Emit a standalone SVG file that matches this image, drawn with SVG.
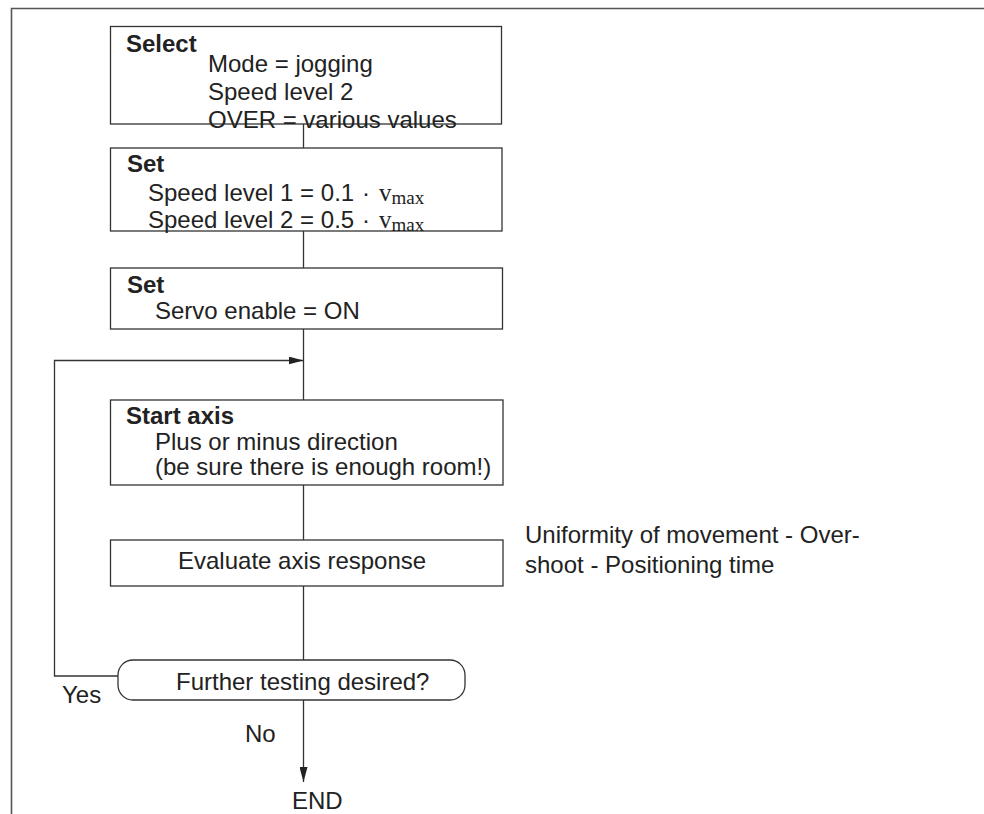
<svg xmlns="http://www.w3.org/2000/svg" width="984" height="814" viewBox="0 0 984 814">
<style>
  .frame{fill:none;stroke:#555;stroke-width:1.6}
  .box{fill:#fff;stroke:#333;stroke-width:1.3}
  .line{fill:none;stroke:#333;stroke-width:1.3}
  text{font-family:"Liberation Sans",Arial,sans-serif;font-size:24px;fill:#222}
  .b{font-weight:bold}
  .serif{font-family:"Liberation Serif","Times New Roman",serif}
</style>
<defs>
  <marker id="arr" viewBox="0 0 15 8" refX="15" refY="4" markerWidth="15" markerHeight="8" markerUnits="userSpaceOnUse" orient="auto">
    <path d="M0,0 L15,4 L0,8 Z" fill="#222"/>
  </marker>
</defs>
<rect width="984" height="814" fill="#fff"/>
<path class="frame" d="M11.5,814 V8.5 H984"/>

<g id="connectors">
  <path class="line" d="M303.5,124 V148"/>
  <path class="line" d="M303.5,231 V268"/>
  <path class="line" d="M303.5,329 V400"/>
  <path class="line" d="M303.5,485 V540"/>
  <path class="line" d="M303.5,586 V660"/>
  <path class="line" d="M118,676 H54.5 V360.5 H303.5" marker-end="url(#arr)"/>
  <path class="line" d="M303.5,700 V782" marker-end="url(#arr)"/>
  <text x="62" y="703">Yes</text>
  <text x="245" y="742">No</text>
</g>

<g id="select">
  <rect class="box" x="110.5" y="26.5" width="391" height="97.5"/>
  <text class="b" x="126" y="52">Select</text>
  <text x="208" y="72">Mode = jogging</text>
  <text x="208" y="100">Speed level 2</text>
  <text x="208" y="128">OVER = various values</text>
</g>

<g id="set-speed">
  <rect class="box" x="110.5" y="148" width="391.5" height="83"/>
  <text class="b" x="127" y="172">Set</text>
  <text x="148" y="201">Speed level 1 = 0.1<tspan x="362">·</tspan><tspan class="serif" x="379" font-size="25">v</tspan><tspan class="serif" font-size="19" dy="3">max</tspan></text>
  <text x="148" y="228">Speed level 2 = 0.5<tspan x="362">·</tspan><tspan class="serif" x="379" font-size="25">v</tspan><tspan class="serif" font-size="19" dy="3">max</tspan></text>
</g>

<g id="set-servo">
  <rect class="box" x="110.5" y="268" width="392" height="61"/>
  <text class="b" x="127" y="293">Set</text>
  <text x="155" y="319">Servo enable = ON</text>
</g>

<g id="start-axis">
  <rect class="box" x="110.5" y="400" width="392.5" height="85"/>
  <text class="b" x="126" y="424">Start axis</text>
  <text x="155" y="450">Plus or minus direction</text>
  <text x="155" y="475">(be sure there is enough room!)</text>
</g>

<g id="evaluate">
  <rect class="box" x="110.5" y="540" width="392.5" height="46"/>
  <text x="178" y="569">Evaluate axis response</text>
</g>

<g id="note">
  <text x="525" y="543">Uniformity of movement - Over-</text>
  <text x="525" y="573">shoot - Positioning time</text>
</g>

<g id="decision">
  <rect class="box" x="118" y="660" width="347" height="40" rx="15" ry="15"/>
  <text x="176" y="690">Further testing desired?</text>
</g>

<g id="end">
  <text x="292" y="809">END</text>
</g>
</svg>
